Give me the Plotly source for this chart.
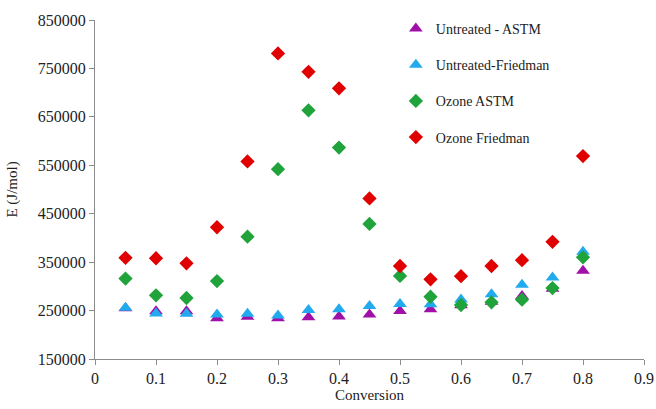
import plotly.graph_objects as go

conversion = [0.05, 0.1, 0.15, 0.2, 0.25, 0.3, 0.35, 0.4, 0.45, 0.5, 0.55, 0.6, 0.65, 0.7, 0.75, 0.8]

untreated_astm = [255000, 248500, 248500, 234000, 237000, 234000, 236000, 238000, 242000,
                  249000, 252500, 261000, 268000, 280000, 295000, 332000]
untreated_friedman = [256000, 244000, 243500, 242000, 243500, 240000, 251000, 252500, 259500,
                      263500, 263000, 273000, 283500, 303500, 318500, 371500]
ozone_astm = [316000, 281500, 276000, 311000, 402500, 542000, 663500, 586500, 429000,
              321500, 278500, 261500, 267000, 272500, 296500, 360000]
ozone_friedman = [359000, 358000, 347500, 422000, 558000, 781000, 743000, 709000, 481500,
                  342000, 314500, 321000, 342000, 354000, 392000, 569000]

x_ticks = [0, 0.1, 0.2, 0.3, 0.4, 0.5, 0.6, 0.7, 0.8, 0.9]
x_tick_labels = ["0", "0.1", "0.2", "0.3", "0.4", "0.5", "0.6", "0.7", "0.8", "0.9"]
y_ticks = [150000, 250000, 350000, 450000, 550000, 650000, 750000, 850000]

series = [
    ("Untreated - ASTM", untreated_astm, "triangle-up", "#A010A8", 12),
    ("Untreated-Friedman", untreated_friedman, "triangle-up", "#22AAEE", 12),
    ("Ozone ASTM", ozone_astm, "diamond", "#1FA33A", 11),
    ("Ozone Friedman", ozone_friedman, "diamond", "#E00000", 11),
]

fig = go.Figure()
for i, (name, vals, sym, col, sz) in enumerate(series):
    fig.add_trace(go.Scatter(
        x=conversion, y=vals, mode="markers", name=name,
        legendgroup=f"g{i}",
        marker=dict(symbol=sym, color=col, size=sz, line=dict(width=0)),
    ))

font_family = "Liberation Serif, Times New Roman, serif"
fig.update_layout(
    width=656, height=409,
    margin=dict(l=95, r=12, t=20, b=50, autoexpand=False),
    plot_bgcolor="white", paper_bgcolor="white",
    font=dict(family=font_family, size=14, color="#222222"),
    showlegend=True,
    legend=dict(x=0.548, y=1.021, xanchor="left", yanchor="top",
                font=dict(family=font_family, size=14, color="#222222"),
                tracegroupgap=15, bgcolor="rgba(0,0,0,0)",
                itemwidth=30),
    xaxis=dict(range=[0, 0.9], tickvals=x_ticks, ticktext=x_tick_labels,
               showgrid=False, zeroline=False, showline=True, linecolor="#8c8c8c",
               linewidth=1, ticks="outside", ticklen=5, tickcolor="#8c8c8c",
               automargin=False,
               title=dict(text="Conversion", standoff=2,
                          font=dict(family=font_family, size=15)),
               tickfont=dict(family=font_family, size=16)),
    yaxis=dict(range=[150000, 850000], tickvals=y_ticks,
               tickformat="d", automargin=False,
               showgrid=False, zeroline=False, showline=True, linecolor="#8c8c8c",
               linewidth=1, ticks="outside", ticklen=5, tickcolor="#8c8c8c",
               tickfont=dict(family=font_family, size=16)),
    annotations=[dict(text="E (J/mol)", xref="paper", yref="paper",
                      x=-0.151, y=0.5, xanchor="center", yanchor="middle",
                      textangle=-90, showarrow=False,
                      font=dict(family=font_family, size=15, color="#222222"))],
)

fig.write_html("out.html", config={"displayModeBar": False},
               post_script="document.body.style.margin='0';document.body.style.overflow='hidden';")
